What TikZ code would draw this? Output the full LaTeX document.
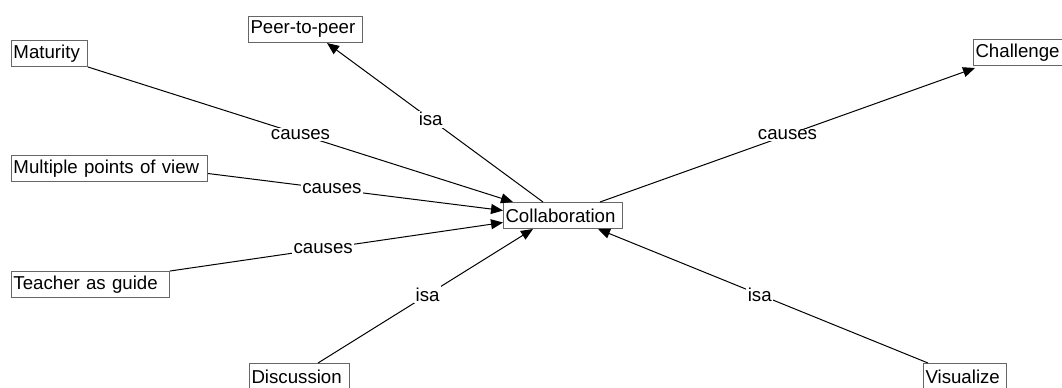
\documentclass[tikz,border=0pt]{standalone}
\usepackage{fontspec}
\setmainfont{Liberation Sans}
\usetikzlibrary{calc,arrows.meta}
\begin{document}
\begin{tikzpicture}[x=0.75pt,y=-0.75pt,
  concept/.style={draw=black!60, line width=0.75pt, anchor=north west,
    inner xsep=1.5pt, inner ysep=0pt, minimum height=19.5pt, align=left,
    font=\fontsize{14}{16}\selectfont},
  link/.style={draw=black, line width=0.75pt,
    -{Triangle[length=9pt,width=7.5pt]}},
  lbl/.style={fill=white, inner sep=1pt, font=\fontsize{14}{16}\selectfont}]
\useasboundingbox (0,0) rectangle (1062,387);
\clip (0,0) rectangle (1062,387);

% concept boxes (top-left corner, width in px)
\node[concept, text width=54pt]  (mat)   at (11,40)  {Maturity};
\node[concept, text width=82.5pt]  (peer)  at (248,16) {Peer-to-peer};
\node[concept, text width=144pt] (mult) at (11,155) {Multiple points of view};
\node[concept, text width=115.5pt] (teach) at (11,271) {Teacher as guide};
\node[concept, text width=86.25pt] (col) at (503,202) {Collaboration};
\node[concept, text width=68pt]  (chal)  at (973,39) {Challenge};
\node[concept, text width=72pt] (disc) at (249,363) {Discussion};
\node[concept, text width=59.25pt] (vis)  at (923,363) {Visualize};

% links
\draw[link] (mat.south east) -- node[lbl, pos=0.5] {causes}
  ($(col.north west)+(10,0)$);
\draw[link] ($(mult.east)+(0,5)$) -- node[lbl, pos=0.42] {causes}
  ($(col.west)+(0,-5)$);
\draw[link] (teach.north east) -- node[lbl, pos=0.46] {causes}
  ($(col.west)+(0,7)$);
\draw[link] ($(col.north west)+(40,0)$) -- node[lbl, pos=0.52] {isa}
  ($(peer.south west)+(79,0)$);
\draw[link] ($(col.north west)+(97,0)$) -- node[lbl, pos=0.5] {causes}
  ($(chal.south west)+(2,2)$);
\draw[link] ($(disc.north west)+(69,0)$) -- node[lbl, pos=0.51] {isa}
  ($(col.south west)+(30,0)$);
\draw[link] ($(vis.north west)+(5,0)$) -- node[lbl, pos=0.51] {isa}
  ($(col.south west)+(95,0)$);
\end{tikzpicture}
\end{document}
